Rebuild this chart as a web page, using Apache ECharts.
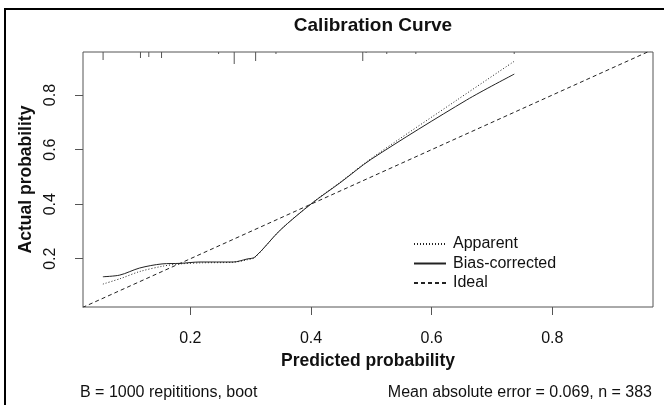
<!DOCTYPE html>
<html><head><meta charset="utf-8">
<script src="https://cdn.jsdelivr.net/npm/echarts@6/dist/echarts.min.js"></script>
<style>html,body{margin:0;padding:0;background:#fff}#c{width:664px;height:405px}</style>
</head><body><div id="c"></div>
<script>
// ---- data ----
const tickValues = [0.2, 0.4, 0.6, 0.8];
const seriesNames = ['Apparent', 'Bias-corrected', 'Ideal'];
const apparentX = [0.055, 0.085, 0.116, 0.155, 0.183, 0.22, 0.271, 0.294, 0.307, 0.349, 0.402, 0.448, 0.50, 0.642, 0.737];
const apparentY = [0.107, 0.128, 0.153, 0.173, 0.181, 0.185, 0.187, 0.196, 0.205, 0.305, 0.405, 0.480, 0.568, 0.782, 0.924];
const biasX = [0.055, 0.083, 0.116, 0.153, 0.183, 0.216, 0.271, 0.294, 0.307, 0.349, 0.402, 0.448, 0.50, 0.658, 0.737];
const biasY = [0.134, 0.140, 0.166, 0.181, 0.183, 0.188, 0.188, 0.199, 0.206, 0.305, 0.404, 0.478, 0.565, 0.782, 0.877];
const idealX = [0, 1];
const idealY = [0, 1];
const rugX = [0.0553, 0.1173, 0.1311, 0.1522, 0.2468, 0.2727, 0.3082, 0.3419, 0.4858, 0.4913, 0.5256, 0.5738, 0.7369];
const rugFreq = [8, 6, 5, 6, 2, 12, 9, 2, 9, 1, 2, 2, 2];
const footLeft = 'B = 1000 repititions, boot';
const footRight = 'Mean absolute error = 0.069, n = 383';

// ---- chart ----
const xMin = 0.022, xMax = 0.967, yMin = 0.023, yMax = 0.958;
const FONT = '"Liberation Sans", Arial, sans-serif';
const lineColor = '#222';
const zip = (a, b) => a.map((v, i) => [v, b[i]]);
const chart = echarts.init(document.getElementById('c'), null, {renderer: 'canvas'});
const axisCommon = {
  type: 'value',
  axisLine: {show: false},
  splitLine: {show: false},
  axisTick: {show: true, inside: false, length: 8, customValues: tickValues, lineStyle: {color: '#555'}},
  axisLabel: {customValues: tickValues, color: '#111', fontSize: 16, fontFamily: FONT,
    formatter: v => v.toFixed(1)},
  nameLocation: 'middle',
  nameTextStyle: {fontSize: 17.5, fontWeight: 'bold', color: '#111', fontFamily: FONT}
};
chart.setOption({
  animation: false,
  backgroundColor: '#fff',
  title: {text: 'Calibration Curve', left: 368, top: 11, textAlign: 'center',
    textStyle: {fontSize: 19, fontWeight: 'bold', color: '#111', fontFamily: FONT}},
  grid: {left: 83, top: 52, right: 11, bottom: 98, show: true, borderColor: '#555', borderWidth: 1, backgroundColor: 'transparent'},
  xAxis: Object.assign({}, axisCommon, {min: xMin, max: xMax, name: 'Predicted probability', nameGap: 42,
    axisLabel: Object.assign({}, axisCommon.axisLabel, {margin: 24})}),
  yAxis: Object.assign({}, axisCommon, {min: yMin, max: yMax, name: 'Actual probability', nameGap: 48,
    axisLabel: Object.assign({}, axisCommon.axisLabel, {rotate: 90, margin: 24})}),
  legend: {
    data: seriesNames, orient: 'vertical', left: 408, top: 231, itemWidth: 32, itemHeight: 16, itemGap: 3.5,
    itemStyle: {opacity: 0},
    textStyle: {fontSize: 16, color: '#111', fontFamily: FONT, padding: [0, 0, 0, 2]}
  },
  graphic: [
    {type: 'rect', shape: {x: 5, y: 9, width: 700, height: 450}, style: {fill: 'none', stroke: '#000', lineWidth: 2}, z: 100},
    {type: 'text', x: 80, y: 393, style: {text: footLeft, font: '16px ' + FONT, fill: '#111', textVerticalAlign: 'middle'}},
    {type: 'text', x: 652, y: 393, style: {text: footRight, font: '16px ' + FONT, fill: '#111', textAlign: 'right', textVerticalAlign: 'middle'}}
  ],
  series: [
    {name: 'Apparent', type: 'line', data: zip(apparentX, apparentY), smooth: 0.3, symbol: 'none', clip: true,
      lineStyle: {color: lineColor, width: 1, type: [1, 2]}, itemStyle: {color: lineColor}},
    {name: 'Bias-corrected', type: 'line', data: zip(biasX, biasY), smooth: 0.3, symbol: 'none', clip: true,
      lineStyle: {color: lineColor, width: 1, type: 'solid'}, itemStyle: {color: lineColor}},
    {name: 'Ideal', type: 'line', data: zip(idealX, idealY), symbol: 'none', clip: true,
      lineStyle: {color: lineColor, width: 1, type: [4, 3]}, itemStyle: {color: lineColor}},
    {name: 'rug', type: 'custom', data: zip(rugX, rugFreq), clip: true,
      renderItem: (params, api) => {
        const p = api.coord([api.value(0), yMax]);
        return {type: 'line', shape: {x1: p[0], y1: p[1], x2: p[0], y2: p[1] + api.value(1)},
          style: {stroke: '#555', lineWidth: 1}};
      }}
  ]
});
</script></body></html>
